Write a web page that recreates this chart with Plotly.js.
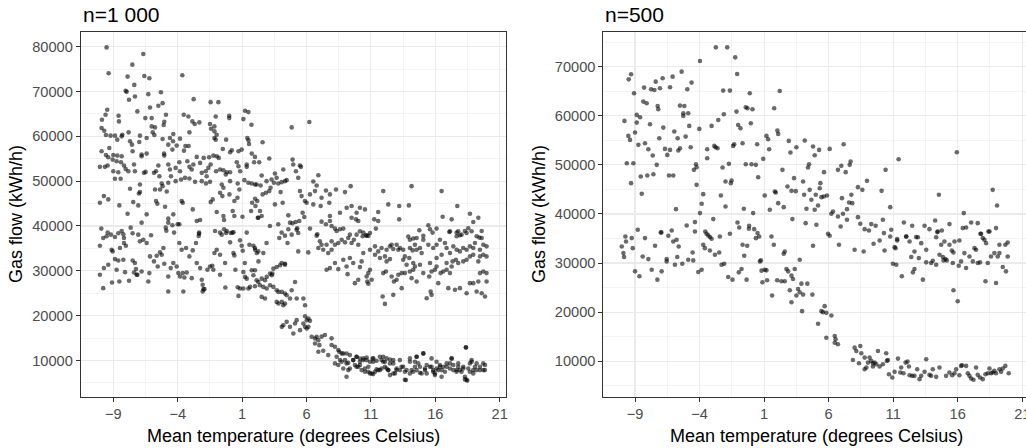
<!DOCTYPE html>
<html>
<head>
<meta charset="utf-8">
<script src="https://cdn.plot.ly/plotly-3.0.1.min.js"></script>
<style>html,body{margin:0;padding:0;background:#fff;}#chart{width:1026px;height:448px;}</style>
</head>
<body>
<div id="chart"></div>
<script>
// ---------- Data: [mean temperature (°C), gas flow (kWh/h)] ----------
// Panel A: n = 1 000
const sampleA_high = [[-9.52,79850],[-9.36,74070],[-6.67,78370],[-7.52,76000],[-7.37,71480],[-8.04,70150],[-7.96,69930],[-7.89,73330],[-6.59,73480],[-6.2,72960],[-3.64,73630],[-7.32,68890],[-7.78,68150],[-6.28,69410],[-5.3,69850],[-2.76,68300],[-1.44,67630],[-0.84,67630],[1.23,65700],[1.49,65410],[-5.17,67410],[-5.5,66820],[-6.15,66440],[-9.47,65930],[-7.13,65560],[-9.88,63700],[-9.6,64810],[-8.59,64590],[-8.56,63330],[-6.51,64070],[-6.02,64070],[-4.91,64810],[-5.04,63260],[-5.09,62520],[-3.53,64810],[-3.17,64440],[-2.86,63330],[-2.68,62740],[-2.32,63110],[-1.05,64440],[0.0,64590],[0.0,64070],[-1.15,62220],[-1.49,62740],[1.1,63850],[1.73,62590],[-6.02,62220],[-5.76,62000],[-9.91,61850],[-9.7,61260],[-9.57,60300],[-9.21,60150],[-8.87,60150],[-8.35,60000],[-8.3,60370],[-7.81,60890],[-6.93,60150],[-6.41,59630],[-5.94,60890],[-5.81,60300],[-4.34,60520],[-4.36,58890],[-3.09,60890],[-3.82,59480],[-4.73,58150],[-4.6,59630],[-5.17,59410],[-7.7,58890],[-6.98,58740],[-7.55,58150],[-8.69,59260],[-1.41,61700],[-1.15,61110],[-0.97,60370],[-1.15,59630],[-1.05,59260],[-0.24,59260],[1.41,59630],[1.49,59110],[1.54,58300],[-9.91,56670],[-9.31,57410],[-9.57,55850],[-9.39,55330],[-9.0,55850],[-8.69,55700],[-8.35,55560],[-7.5,56670],[-6.8,55560],[-6.8,55930],[-6.41,56150],[-5.04,55700],[-5.06,56150],[-4.41,57040],[-4.08,57930],[-3.4,57850],[-3.15,57850],[-3.51,56810],[-2.52,55410],[-1.98,55190],[-1.56,55330],[-1.23,55700],[-0.97,55560],[-0.81,55190],[-0.5,57190],[0.2,56890],[0.07,56440],[0.72,56670],[0.97,57040],[1.75,56150],
[-10.04,53190],[-9.65,53190],[-9.44,53480],[-9.05,54810],[-8.74,54440],[-8.4,54220],[-8.17,53480],[-8.04,52740],[-7.83,52220],[-7.39,53700],[-7.32,52220],[-9.0,52220],[-8.61,52000],[-8.87,50520],[-8.43,50520],[-6.62,51850],[-6.49,52070],[-5.84,51850],[-5.68,52220],[-5.5,53480],[-4.73,53700],[-4.6,52590],[-4.52,51110],[-4.16,52960],[-3.87,54220],[-3.82,52220],[-3.25,54440],[-3.09,53190],[-2.78,53700],[-2.91,52590],[-2.26,54070],[-2.13,51850],[-1.82,52220],[-1.62,52960],[-1.75,51110],[-1.44,53700],[-1.02,52220],[-0.71,52590],[-0.45,52440],[-0.19,52000],[0.07,52000],[-0.27,51480],[0.59,54220],[0.72,53330],[1.36,53700],[0.85,52220],[1.36,53190],[1.93,54220],
[-4.16,50000],[-3.74,50370],[-3.43,50740],[-3.09,50590],[-2.65,49850],[-2.13,50000],[-1.8,49480],[-1.49,49850],[-0.58,49260],[0.07,50000],[0.66,49480],[1.18,50220],[1.49,49630],[1.75,49480],[2.01,49260],[-5.42,51110],[-5.24,49480],[-5.76,48150],[-5.37,48150],[-5.17,48890],[-4.85,47700],[-4.73,49630],[-7.7,48300],[-6.93,49260],[-6.93,47560],[-7.01,47260],
[-10.04,45190],[-9.73,46670],[-9.39,45930],[-8.53,44590],[-7.89,42740],[-7.45,45330],[-7.06,44590],[-6.41,42590],[-6.8,40740],[-5.68,45560],[-5.58,44960],[-4.98,44300],[-4.73,41630],[-4.34,42590],[-4.73,40740],[-4.41,40150],[-4.0,40370],[-3.69,45560],[-3.61,45190],[-2.83,43700],[-2.52,41110],[-2.26,41330],[-1.44,45330],[-1.28,45930],[-0.97,43110],[-0.71,47410],[-0.45,48520],[-0.53,46670],[0.02,47040],[0.4,45560],[0.64,46300],[0.79,48150],[0.27,43330],[1.03,42070],[1.7,43330],[2.04,44440],[1.78,45190],[2.01,46070],[2.22,41850],[0.4,42220],[-0.45,42220],[-0.4,41330],
[-9.93,39410],[-9.44,38520],[-8.61,38370],[-8.22,38150],[-8.35,38890],[-7.65,39630],[-7.5,38370],[-6.07,37930],[-4.93,39630],[-4.88,38960],[-4.28,38520],[-3.87,40370],[-2.34,38520],[-2.37,37780],[-1.1,38890],[-0.71,38520],[-0.4,39260],[-0.19,38890],[0.25,38520],[1.36,38520]];

const sampleA_coldLow = [[-10.04,35600],[-9.78,37310],[-9.52,37690],[-9.18,38060],[-8.87,37540],[-9.13,34700],[-9.05,34330],[-9.73,30600],[-10.04,29100],[-9.78,26120],[-9.39,31340],[-9.1,27390],[-8.53,27610],[-7.78,27760],[-8.87,32610],[-8.61,32310],[-8.22,32460],[-8.09,29700],[-8.74,30220],[-8.48,35070],[-8.17,36190],[-8.02,35600],[-8.17,37310],[-7.5,32310],[-7.32,31720],[-7.24,30370],[-7.19,29100],[-7.39,29630],[-6.8,29850],[-7.13,29100],[-6.93,36570],[-6.67,36940],[-7.06,38060],[-6.41,36190],[-6.15,33210],[-6.2,29480],[-6.28,27610],[-5.84,32090],[-5.63,33360],[-5.55,30970],[-5.37,34100],[-5.11,35070],[-5.24,33580],[-5.04,31570],[-4.73,28730],[-4.73,25370],[-4.54,30600],[-4.34,31720],[-4.08,30970],[-3.95,29480],[-3.82,28730],[-3.61,29480],[-3.48,28510],[-3.3,29630],[-3.56,25370],[-3.87,36190],[-3.69,34700],[-3.35,35070],[-3.09,33210],[-2.83,34550],[-2.58,36190],[-2.91,28360],[-2.52,31720],[-2.26,30600],[-2.34,38280],[-2.13,27990],[-2.06,26870],[-2.0,25900],[-2.06,25370],[-1.93,25900],[-1.69,30220],[-1.49,30970],[-1.31,31120],[-1.23,30220],[-1.15,33960],[-0.97,34700],[-0.71,33580],[-0.58,38060],[-0.24,38430],[0.12,38430],[0.33,38580],[-0.71,29100],[-0.32,31720],[-0.3,26270],[0.07,36340],[0.33,33960],[0.4,33430],[0.48,30220],[0.66,26340],[0.72,24400],[0.84,36790],[0.97,35600],[1.05,34480],[1.21,31720],[1.57,35820],[1.88,35600],[2.01,34700],[2.14,33960],[2.27,32090]];

const sampleA_warmHigh = [[2.59,58670],[2.0,55410],[2.33,54220],[3.11,55040],[2.52,51260],[2.9,50000],[3.29,50370],[3.55,51700],[3.68,50740],[4.2,52590],[4.46,50220],[4.92,54810],[4.97,53700],[5.18,52220],[5.49,53480],[5.57,53190],[5.36,50740],[6.92,51330],[6.53,49930],[6.79,49040],[4.85,62000],[6.22,63190],[2.13,49260],[2.44,49040],[2.59,47040],[2.85,47410],[3.11,47780],[3.21,48520],[3.47,49630],[3.81,49480],[4.07,49780],[4.33,50000],[3.99,47560],[3.55,44810],[4.15,45190],[5.49,47780],[5.62,46670],[5.88,45560],[6.01,45190],[6.27,47040],[6.66,47780],[6.53,44810],[7.1,44440],[7.17,46300],[7.51,47930],[7.82,47040],[7.77,45190],[8.29,48150],[8.99,47560],[9.43,48890],[8.6,42960],[9.12,44070],[9.5,44440],[9.89,42960],[10.15,44070],[10.54,43700],[11.96,47780],[12.35,44810],[13.2,44440],[13.95,44590],[14.16,48890],[16.49,47780],[17.71,44440],[16.57,42070],[17.27,41480],[18.69,42740],[19.34,41850],[18.95,40890],[2.18,45560],[2.39,43330],[2.52,42220],[2.26,41850],[3.16,40000],[3.81,40370],[4.07,38520],[4.59,42370],[4.72,40740],[4.92,40590],[5.16,40890],[5.44,41110],[5.28,39480],[4.59,39260],[5.7,42960],[5.83,42000],[6.27,39410],[6.84,38150],[7.17,40960],[7.51,40370],[7.82,41110],[7.95,40000],[8.21,39410],[8.34,38890],[8.6,39260],[8.86,39410],[7.82,42220],[9.5,41850],[9.84,41480],[10.02,41110],[11.26,41480],[11.57,41110],[11.39,39410],[10.41,38520],[10.62,37930],[10.8,37780],[11.57,43110],[13.2,41480],[13.9,37630],[14.29,37190],[14.76,39040],[15.07,37780],[15.46,40150],[15.59,39260],[15.79,38520],[16.1,39410],[17.09,38670],[17.66,38520],[17.91,37930],[18.3,38890],[18.56,39480],[19.6,38890],[19.42,37410]];

const sampleA_warmMid = [[2.0,35070],[2.26,34330],[2.65,33960],[2.9,36190],[4.07,31720],[4.33,31570],[3.89,37310],[4.33,37840],[4.53,36190],[4.85,38060],[5.36,34330],[6.14,34100],[5.23,39180],[5.36,38430],[6.79,37840],[7.04,36570],[7.17,35820],[6.92,35070],[7.3,34700],[7.69,33960],[7.95,34700],[7.56,35820],[7.95,36570],[8.21,35820],[8.47,36190],[8.73,36940],[8.99,36340],[9.24,37310],[9.5,36190],[9.68,36940],[10.02,35820],[9.37,38060],[9.89,38060],[10.36,37690],[10.67,37840],[10.93,38430],[10.15,38810],[7.56,30220],[7.82,30600],[8.47,30370],[9.11,30970],[9.63,31720],[10.28,32090],[10.15,30820],[8.86,32460],[9.37,32840],[8.21,31720],[9.19,29250],[10.02,27990],[9.76,27240],[10.67,28730],[10.8,29480],[10.93,30220],[10.72,27610],[11.06,27990],[10.8,27090],[10.41,33960],[10.93,34700],[11.32,33580],[11.57,34330],[11.7,32840],[11.32,35450],[11.83,35070],[12.22,34700],[12.48,35450],[12.61,35820],[12.74,34850],[13.13,34700],[13.0,35820],[13.26,35070],[12.09,33210],[12.22,32090],[12.48,32610],[11.96,29480],[12.17,29850],[12.61,28730],[12.79,27610],[13.13,29100],[13.39,29480],[11.91,24250],[12.09,22610],[12.74,24630],[13.0,27990],[13.39,26120],[13.51,32460],[13.64,33210],[13.98,32840],[14.29,31720],[13.77,31340],[13.51,34700],[14.03,35070],[14.24,34550],[14.42,35820],[14.55,34700],[14.81,35070],[14.94,33960],[14.03,36940],[14.55,37310],[15.07,36940],[13.64,29480],[14.03,29850],[14.29,30220],[14.42,30970],[14.81,31340],[14.16,28360],[14.55,27610],[15.33,23880],[15.64,25370],[15.71,24630],[15.07,29480],[15.53,28730],[15.71,29850],[16.1,30970],[15.97,30220],[16.23,27240],[16.41,29480],[15.46,35820],[15.84,35070],[16.1,35820],[16.36,36940],[16.75,36190],[16.88,35070],[17.14,33960],[16.49,33580],[16.1,32840],[15.59,31720],[17.4,35450],[17.66,34700],[17.91,34330],[18.17,35070],[18.43,34700],[18.69,35450],[18.95,35070],[19.08,36190],[19.47,34700],[19.73,35820],[19.98,35450],[16.62,29850],[16.88,30220],[17.14,29480],[17.27,30970],[16.88,31720],[17.34,32090],[17.6,32460],[17.78,31720],[18.17,32090],[18.43,32460],[18.69,33210],[18.95,33580],[19.34,32090],[19.47,33210],[19.73,33580],[19.98,33210],[17.01,26120],[17.53,25750],[17.91,26120],[18.43,25000],[18.69,27240],[18.95,27240],[19.34,27610],[19.21,25370],[19.6,25000],[19.86,24250],[19.98,27610],[19.47,29480],[19.73,29850],[19.98,29480],[17.66,37690],[18.04,38060],[18.43,38430],[18.82,38810],[19.21,37690],[19.6,37310],[17.14,38810],[17.78,38810]];

const sampleA_descent = [[1.1,29740],[1.23,28630],[1.36,28250],[1.75,30110],[2.0,30110],[1.88,29000],[2.13,27880],[2.26,27510],[2.52,28250],[2.78,27880],[2.91,28630],[3.17,29370],[3.3,29000],[3.35,29370],[3.43,30480],[3.69,30850],[3.95,31220],[4.33,31370],[0.84,26030],[1.1,26030],[1.49,26030],[1.62,26400],[2.0,26550],[2.39,26770],[2.65,26400],[2.91,26030],[3.17,26770],[3.43,26400],[3.69,25660],[3.82,25290],[4.08,25290],[4.33,24920],[4.46,24540],[4.85,25660],[5.11,27510],[2.52,24170],[2.78,23800],[3.69,23060],[3.82,22690],[4.08,23060],[4.2,22320],[4.33,22690],[4.72,23800],[5.24,23800],[5.76,23800],[5.89,22320],[5.89,19870],[6.15,19350],[6.27,18830],[6.02,18980],[5.24,18980],[5.11,18230],[4.46,18610],[4.2,17860],[4.08,17490],[4.72,17490],[5.76,18230],[5.89,17490],[6.02,17120],[6.15,17490],[5.5,16750],[4.98,16010],[6.4,15270],[6.66,14890],[6.79,15270],[6.92,14520],[6.66,13780],[7.0,13410]];

const sampleA_floor = [[7.17,15300],[7.43,15670],[7.95,14920],[6.92,11940],[7.3,12160],[7.69,11190],[7.95,13430],[8.21,13060],[8.47,12310],[8.73,11570],[8.34,10820],[8.6,10070],[8.21,9330],[8.47,8960],[8.99,10070],[9.11,9330],[8.86,8210],[9.11,6340],[8.54,11920],[8.86,11550],[8.73,9700],[9.24,9470],
[9.11,11550],[9.37,8210],[9.24,7840],[9.63,10070],[9.89,10810],[10.15,10440],[10.41,10070],[10.67,10660],[11.13,10440],[11.18,9700],[9.76,8950],[10.02,8580],[10.28,7840],[10.54,7470],[10.8,8580],[10.93,7100],[11.18,6950],[11.44,7990],[11.7,7840],[11.83,10070],[11.96,10810],[12.09,9700],[12.22,8210],[12.35,7840],[12.48,10220],[12.74,9330],[12.87,7100],[12.98,7840],[13.25,10070],[13.38,8580],[13.64,7470],[13.72,5610],[14.03,9700],[14.16,7840],[14.42,8580],[14.55,10810],[14.68,9330],[14.81,7250],[15.07,11550],[15.2,8210],[15.33,7100],[15.58,8580],[15.84,7840],[15.97,7100],[16.23,7840],[16.36,8580],[16.49,6360],[16.75,7470],[16.88,8580],[17.14,9330],[17.27,10440],[17.4,7840],[17.65,7470],[17.78,9330],[17.91,7840],[18.17,8210],[18.3,5760],[18.38,12890],[18.48,5500],[18.69,7470],[18.82,9700],[18.95,7100],[19.08,8580],[19.21,9330],[19.47,7840],[19.72,9330],[19.85,7840],
[9.37,11190],[9.63,10070],[9.89,10820],[10.15,9700],[10.41,10450],[10.67,10070],[10.93,9700],[11.19,10450],[11.44,9930],[11.7,10820],[11.96,9700],[12.22,10450],[12.48,9330],[12.74,10070],[9.89,8580],[10.15,8960],[10.54,8210],[10.8,7460],[11.06,7090],[11.32,7460],[11.57,7840],[11.83,8210],[12.09,8580],[12.35,7840],[12.48,6720],[12.74,7090],[13.0,8210],[13.26,7840],[13.51,8580],[13.77,7840],[13.64,5700],[14.03,10450],[14.42,9700],[14.55,10820],[15.07,11570],[14.03,7090],[14.29,7460],[14.55,7840],[14.81,8580],[14.94,7090],[15.2,7840],[15.33,8960],[15.71,8580],[15.84,7460],[15.97,6720],[16.1,8210],[16.36,8960],[16.49,7840],[16.62,8580],[16.88,9330],[17.14,8210],[17.27,10450],[17.4,8960],[17.66,7840],[17.78,8580],[18.04,7460],[18.17,8580],[18.3,6340],[18.43,5700],[18.56,8210],[18.69,9330],[18.82,10070],[18.95,7840],[19.21,7840],[19.47,8580],[19.73,7840],[19.86,8960],[18.38,12910],[16.1,9700],[15.71,10450]];

// Panel B: n = 500
const sampleB_high = [[-2.74,73930],[-1.86,73930],[-3.97,71150],[-1.24,71900],[-1.09,68510],[-9.31,68440],[-9.49,67420],[-5.39,68980],[-4.62,66750],[-6.09,67970],[-6.86,67630],[-7.4,66950],[-9.08,64580],[-8.3,65730],[-7.76,65390],[-7.5,65250],[-7.07,65590],[-6.29,65800],[-4.95,65390],[-2.17,65120],[-1.65,65120],[-0.11,64580],[2.21,65050],[-8.36,62880],[-8.1,62540],[-7.25,62000],[-7.2,61320],[-5.52,62070],[-5.18,62000],[-5.26,60510],[-5.26,59970],[-4.88,60510],[-1.14,60850],[-0.42,61730],[-0.29,61530],[0.1,61320],[1.78,61530],[-9.82,58950],[-8.87,60170],[-8.61,59700],[-2.12,60300],[-2.55,59150],[-8.87,58610],[-7.84,58270],[-6.81,57590],[-5.96,56780],[-4.8,57930],[-4.02,57320],[-3.07,57930],[-1.01,58130],[-0.83,57460],[-0.03,58470],[1.18,55900],[1.31,55220],[2.03,56980],[2.09,56300],[-9.52,55900],[-9.39,55080],[-9.0,56580],[-8.74,54070],[-8.23,54410],[-7.97,53190],[-7.63,51900],[-7.12,55420],[-6.68,53250],[-6.5,52030],[-6.29,53050],[-5.65,52910],[-5.52,53390],[-5.7,55420],[-5.08,55760],[-4.69,53590],[-3.41,53190],[-2.86,53860],[-2.76,53590],[-2.61,53390],[-1.32,54200],[-1.4,53860],[-0.67,54410],[0.46,54200],[1.39,53190],[-0.42,50130],[0.02,50130],[0.36,50000],[0.93,51220],[-3.41,51350],[-9.64,50340],[-9.13,50340],[-7.32,50000],[-4.28,50130],[-4.23,49520],[-2.22,49460],[-1.73,50200],[-9.31,46270],[-8.56,47630],[-8.05,47830],[-7.58,48100],[-6.37,47830],[-6.04,47830],[-4.44,48980],[-4.23,45930],[-1.99,46610],[-1.58,46270],[-1.52,46810],[-2.35,43760],[-1.99,41520],[-1.06,38270],[-0.57,41050],[0.15,40170],[0.54,47490],[1.05,43760],[1.44,40850],[1.83,44580],[2.09,42200],[-8.48,44100],[-5.83,40980],[-3.72,44030],[-3.84,42070],[-3.97,40170],[-4.36,38340],[-2.94,38950],[-9.75,35420],[-9.26,35080],[-8.79,36780],[-8.23,35080],[-6.96,36240],[-6.42,35560],[-6.16,36640],[-5.78,34740],[-5.0,37660],[-4.36,36440],[-3.56,36440],[-3.46,35960],[-3.33,35630],[-3.2,35290],[-3.07,34950],[-2.43,35420],[-1.65,35960],[-0.93,37250],[-0.16,37590],[-0.18,36980],[0.23,36910],[0.49,36100],[0.62,35420],[1.57,35420]];

const sampleB_coldLow = [[-10.03,33380],[-9.9,32030],[-9.85,31220],[-9.7,34390],[-9.18,33040],[-9.0,28310],[-8.66,27300],[-8.41,31350],[-7.97,30810],[-7.71,28650],[-7.45,33510],[-7.27,26620],[-6.94,28310],[-7.01,36220],[-6.55,30810],[-6.55,30340],[-6.04,34390],[-5.91,29660],[-5.73,31220],[-5.62,33380],[-5.34,29860],[-4.88,30680],[-4.54,32160],[-4.49,30540],[-4.1,28180],[-3.84,28650],[-3.72,33720],[-3.59,33040],[-3.2,32570],[-2.81,31690],[-2.48,32160],[-2.3,29660],[-2.09,29860],[-1.78,27160],[-1.45,26620],[-0.96,28110],[-0.75,28780],[-0.67,33720],[-0.31,33510],[-0.54,31490],[-0.36,26620],[0.36,35070],[0.67,30340],[0.75,30540],[0.8,28450],[1.05,28650],[1.18,28510],[0.87,26080],[1.23,26490],[1.62,23380],[1.75,33720],[2.01,26490]];

const sampleB_warmHigh = [[2.91,54880],[3.04,52510],[3.5,53590],[4.15,54950],[4.79,53730],[4.92,51970],[5.26,53050],[6.08,53250],[7.16,54200],[4.48,50130],[4.4,49460],[2.42,48980],[3.32,47290],[4.02,46610],[2.81,45590],[3.12,44710],[3.45,44640],[1.9,44370],[4.1,43900],[4.53,44910],[5.0,43900],[5.31,45250],[5.36,46270],[5.64,48510],[4.66,42880],[5.44,43420],[5.62,43560],[5.87,43760],[4.28,41050],[4.92,40850],[5.18,41730],[2.52,41390],[3.19,38950],[4.22,38130],[5.05,37800],[5.95,35960],[6.08,35560],[6.21,40030],[6.34,40510],[6.72,39490],[7.11,40030],[7.42,38810],[6.93,37460],[7.03,43220],[7.32,48510],[6.72,48980],[6.98,49800],[7.63,50000],[7.7,50680],[7.76,43900],[7.58,42340],[7.83,42200],[7.42,40980],[8.27,45460],[8.61,44910],[8.97,46740],[8.27,39350],[8.45,38000],[8.79,36910],[9.12,36640],[9.3,37930],[9.64,37590],[10.2,38810],[10.28,36100],[10.77,41390],[10.85,36780],[10.1,44710],[10.41,48980],[11.42,51150],[11.31,34880],[12.01,35420],[12.78,35290],[11.83,38270],[12.47,37590],[13.43,37590],[13.81,36910],[14.25,38680],[14.54,43900],[14.41,36300],[14.77,36640],[15.36,37930],[15.93,52580],[16.47,40170],[16.39,37120],[16.65,37250],[17.04,38270],[17.55,38130],[17.76,35960],[17.94,35080],[18.38,36440],[18.71,44910],[19.05,41730],[18.97,37120]];

const sampleB_warmMid = [[2.6,32360],[2.52,31890],[2.73,28780],[2.86,28310],[3.37,28780],[3.76,30680],[3.12,27430],[3.24,26760],[2.34,26280],[2.6,26280],[2.99,24460],[3.63,24730],[3.76,24050],[3.5,23380],[3.89,25810],[4.35,25810],[4.02,23580],[4.74,23580],[3.12,22030],[3.94,20200],[4.79,33510],[6.8,33720],[8.01,32700],[8.71,32360],[9.48,33920],[9.95,34590],[10.33,32570],[10.77,35410],[11.11,33240],[11.18,33040],[11.31,34590],[10.98,29860],[11.24,29660],[11.67,27300],[12.01,35410],[12.27,34390],[12.4,31220],[12.65,32360],[12.91,35270],[13.17,34050],[13.56,32700],[12.65,28780],[12.53,28110],[12.99,31010],[13.3,26620],[13.56,30140],[13.94,30000],[14.07,30470],[14.33,29660],[14.33,35270],[14.46,36420],[14.72,33720],[14.97,34390],[14.59,31690],[14.85,31220],[15.05,30810],[15.15,30540],[14.9,30540],[15.36,33720],[15.54,32570],[15.67,32160],[15.75,34390],[16.13,34590],[15.62,30000],[16.08,29460],[16.26,30340],[15.67,24460],[16.0,22230],[16.52,32030],[16.65,28990],[16.91,31350],[17.3,33040],[17.42,32700],[17.17,30340],[17.55,30000],[17.73,30140],[17.81,35950],[18.07,34730],[18.2,34050],[18.46,36420],[18.15,26280],[18.33,30000],[18.58,31350],[18.84,32030],[18.97,25950],[19.23,33720],[19.49,29190],[19.69,33720],[19.87,34190],[19.74,28310],[19.87,31350],[19.1,31350],[19.23,32030]];

const sampleB_floor = [[5.18,17630],[5.44,20200],[5.69,21220],[5.56,20000],[5.82,19860],[6.21,19320],[5.82,14800],[6.47,15130],[6.54,14460],[6.47,13780],[6.72,13450],[7.88,10270],[8.01,12770],[8.45,13110],[8.14,12090],[8.53,11620],[8.35,9590],[8.79,10740],[9.05,9730],[9.17,10740],[9.3,10070],[9.43,9590],[9.56,9730],[9.69,9390],[9.43,8920],[8.92,8720],[8.79,8380],[9.82,12090],[9.95,8920],[10.2,9390],[10.51,10070],[10.59,10270],[10.46,11620],[10.67,7360],[10.93,6690],[11.11,7840],[11.37,10540],[11.55,7700],[11.8,7570],[11.96,9730],[12.11,9930],[12.22,8920],[12.27,7160],[11.62,8720],[12.47,7030],[12.65,7030],[12.86,8380],[13.04,6350],[13.17,7030],[13.43,7840],[13.56,10400],[13.81,7230],[13.94,7030],[14.07,8380],[14.33,6820],[14.59,8720],[15.1,7030],[15.36,7700],[15.57,7160],[15.75,7570],[15.88,8380],[16.13,7160],[16.26,9050],[16.34,9190],[16.65,9050],[16.78,7570],[16.91,7030],[17.04,6490],[17.22,6220],[17.42,8720],[17.55,7230],[17.73,6690],[17.94,6350],[18.15,7360],[18.33,7570],[18.46,8510],[18.58,7570],[18.71,7700],[18.84,8040],[18.97,7570],[19.23,8380],[19.36,7840],[19.49,8510],[19.69,9050],[19.95,7570]];

// Axis tick values and labels
const xTickVals = [-9, -4, 1, 6, 11, 16, 21];
const xTickText = ['\u22129', '\u22124', '1', '6', '11', '16', '21'];
const xMinorVals = [-11.5, -6.5, -1.5, 3.5, 8.5, 13.5, 18.5];
const yTickValsA = [10000, 20000, 30000, 40000, 50000, 60000, 70000, 80000];
const yTickValsB = [10000, 20000, 30000, 40000, 50000, 60000, 70000];
const yMinorVals = [5000, 15000, 25000, 35000, 45000, 55000, 65000, 75000];
const titleA = 'n=1 000';
const titleB = 'n=500';
const xLabel = 'Mean temperature (degrees Celsius)';
const yLabel = 'Gas flow (kWh/h)';

// ---------- Build ----------
const pointsA = [].concat(sampleA_high, sampleA_coldLow, sampleA_warmHigh, sampleA_warmMid, sampleA_descent, sampleA_floor);
const pointsB = [].concat(sampleB_high, sampleB_coldLow, sampleB_warmHigh, sampleB_warmMid, sampleB_floor);

const FONT = '"Liberation Sans", Arial, Helvetica, sans-serif';
const TICKSIZE = 14.6, AXTITLESIZE = 18, TITLESIZE = 21;
const marker = {size: 4.6, color: 'rgba(0,0,0,0.58)', line: {width: 0}};

const traces = [
  {type: 'scatter', mode: 'markers', x: pointsA.map(p => p[0]), y: pointsA.map(p => p[1]),
   xaxis: 'x', yaxis: 'y', marker: marker, hoverinfo: 'skip', showlegend: false},
  {type: 'scatter', mode: 'markers', x: pointsB.map(p => p[0]), y: pointsB.map(p => p[1]),
   xaxis: 'x2', yaxis: 'y2', marker: marker, hoverinfo: 'skip', showlegend: false}
];

function xAxis(domain, range, anchor, mirror) {
  return {
    domain: domain, range: range, anchor: anchor, tickmode: 'array',
    tickvals: xTickVals, ticktext: xTickText, ticklabeloverflow: 'allow',
    ticks: 'outside', ticklen: 4, tickwidth: 1, tickcolor: '#333333',
    tickfont: {family: FONT, size: TICKSIZE, color: '#4D4D4D'},
    showgrid: true, gridcolor: '#EBEBEB', gridwidth: 1.1,
    minor: {tickmode: 'array', tickvals: xMinorVals, showgrid: true, gridcolor: '#F0F0F0', gridwidth: 0.7, ticks: ''},
    showline: true, linecolor: '#333333', linewidth: 1, mirror: mirror,
    zeroline: false, fixedrange: true
  };
}
function yAxis(domain, range, anchor, ticks, mirror) {
  return {
    domain: domain, range: range, anchor: anchor, tickmode: 'array',
    tickvals: ticks, ticktext: ticks.map(v => String(v)),
    ticks: 'outside', ticklen: 4, tickwidth: 1, tickcolor: '#333333',
    tickfont: {family: FONT, size: TICKSIZE, color: '#4D4D4D'},
    showgrid: true, gridcolor: '#EBEBEB', gridwidth: 1.1,
    minor: {tickmode: 'array', tickvals: yMinorVals, showgrid: true, gridcolor: '#F0F0F0', gridwidth: 0.7, ticks: ''},
    showline: true, linecolor: '#333333', linewidth: 1, mirror: mirror,
    zeroline: false, fixedrange: true
  };
}

const W = 1026, H = 448;
const yDom = [1 - 396.8 / H, 1 - 31.7 / H];
const layout = {
  width: W, height: H,
  margin: {l: 0, r: 0, t: 0, b: 0, pad: 0},
  paper_bgcolor: '#ffffff', plot_bgcolor: '#ffffff',
  font: {family: FONT, color: '#000000'},
  showlegend: false,
  xaxis: xAxis([80.7 / W, 506 / W], [-11.53, 21.49], 'y', true),
  yaxis: yAxis(yDom, [1880, 83350], 'x', yTickValsA, true),
  xaxis2: xAxis([603.3 / W, 1], [-11.46, 21.29], 'y2', true),
  yaxis2: yAxis(yDom, [2760, 77120], 'x2', yTickValsB, false),
  annotations: [
    {text: titleA, xref: 'paper', yref: 'paper', x: 81 / W, y: 1 - 14 / H, xanchor: 'left', yanchor: 'middle', showarrow: false, font: {family: FONT, size: TITLESIZE, color: '#000'}},
    {text: titleB, xref: 'paper', yref: 'paper', x: 603 / W, y: 1 - 14 / H, xanchor: 'left', yanchor: 'middle', showarrow: false, font: {family: FONT, size: TITLESIZE, color: '#000'}},
    {text: xLabel, xref: 'paper', yref: 'paper', x: 293 / W, y: 1 - 436 / H, xanchor: 'center', yanchor: 'middle', showarrow: false, font: {family: FONT, size: AXTITLESIZE, color: '#000'}},
    {text: xLabel, xref: 'paper', yref: 'paper', x: 816.5 / W, y: 1 - 436 / H, xanchor: 'center', yanchor: 'middle', showarrow: false, font: {family: FONT, size: AXTITLESIZE, color: '#000'}},
    {text: yLabel, xref: 'paper', yref: 'paper', x: 16 / W, y: 1 - 214 / H, xanchor: 'center', yanchor: 'middle', textangle: -90, showarrow: false, font: {family: FONT, size: AXTITLESIZE, color: '#000'}},
    {text: yLabel, xref: 'paper', yref: 'paper', x: 539 / W, y: 1 - 214 / H, xanchor: 'center', yanchor: 'middle', textangle: -90, showarrow: false, font: {family: FONT, size: AXTITLESIZE, color: '#000'}}
  ]
};

Plotly.newPlot('chart', traces, layout, {staticPlot: true, displayModeBar: false});
</script>
</body>
</html>
